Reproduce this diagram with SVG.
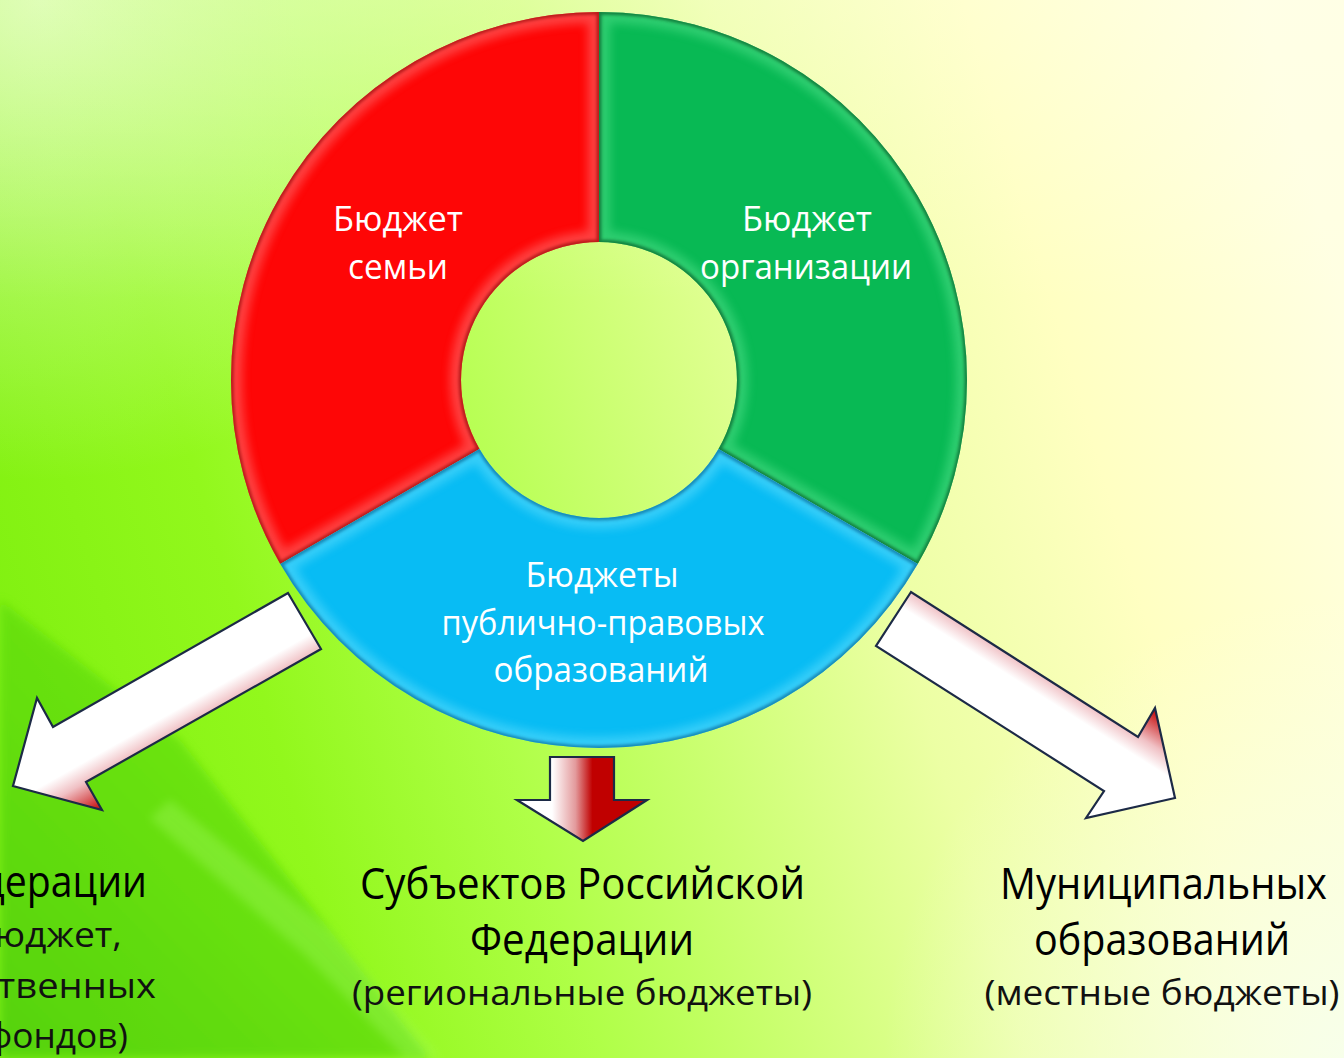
<svg xmlns="http://www.w3.org/2000/svg" width="1344" height="1058" viewBox="0 0 1344 1058">
<style>
.lbl{font-family:"Open Sans","Noto Sans","DejaVu Sans",sans-serif;fill:#fff;font-size:35px;text-anchor:middle}
.hdr{font-family:"Open Sans","Noto Sans","DejaVu Sans",sans-serif;fill:#000;font-size:44px;text-anchor:middle}
.sub{font-family:"Open Sans","Noto Sans","DejaVu Sans",sans-serif;fill:#111;font-size:35px;text-anchor:middle}
.end{text-anchor:end}
.arrow{stroke:#1c2a46;stroke-width:2.2;stroke-linejoin:miter}
.hl{fill:none;stroke-width:22;filter:url(#blur5);opacity:.45}
.rim{fill:none;stroke-width:5;filter:url(#blur1);opacity:.6}
</style>
<defs>
<linearGradient id="bg" gradientUnits="userSpaceOnUse" x1="0" y1="700" x2="1344" y2="300">
<stop offset="0" stop-color="#80f010"/>
<stop offset="0.18" stop-color="#92f81c"/>
<stop offset="0.34" stop-color="#b0ff48"/>
<stop offset="0.48" stop-color="#cdff74"/>
<stop offset="0.63" stop-color="#ecffa4"/>
<stop offset="0.8" stop-color="#ffffc2"/>
<stop offset="1" stop-color="#ffffe2"/>
</linearGradient>
<radialGradient id="tl" gradientUnits="userSpaceOnUse" cx="40" cy="0" r="480">
<stop offset="0" stop-color="#eeffd8" stop-opacity=".7"/>
<stop offset="1" stop-color="#eeffd8" stop-opacity="0"/>
</radialGradient>
<linearGradient id="topw" x1="0" y1="0" x2="0" y2="1">
<stop offset="0" stop-color="#ffffee" stop-opacity=".3"/>
<stop offset="1" stop-color="#ffffee" stop-opacity="0"/>
</linearGradient>
<radialGradient id="br" gradientUnits="userSpaceOnUse" cx="1344" cy="1058" r="460">
<stop offset="0" stop-color="#f6fff0" stop-opacity=".85"/>
<stop offset="1" stop-color="#f6fff0" stop-opacity="0"/>
</radialGradient>
<linearGradient id="wedge" gradientUnits="userSpaceOnUse" x1="0" y1="1058" x2="300" y2="760">
<stop offset="0" stop-color="#4ccc08"/>
<stop offset="1" stop-color="#6ae410"/>
</linearGradient>
<filter id="soft" x="-20%" y="-20%" width="140%" height="140%"><feGaussianBlur stdDeviation="5"/></filter>
<filter id="blur5" x="-10%" y="-10%" width="120%" height="120%"><feGaussianBlur stdDeviation="5"/></filter>
<filter id="blur1" x="-10%" y="-10%" width="120%" height="120%"><feGaussianBlur stdDeviation="1.5"/></filter>
<path id="pRed" d="M599,12 A368,368 0 0 0 280.3,564 L479.5,449 A138,138 0 0 1 599,242 Z"/>
<path id="pGreen" d="M599,12 A368,368 0 0 1 917.7,564 L718.5,449 A138,138 0 0 0 599,242 Z"/>
<path id="pBlue" d="M280.3,564 A368,368 0 0 0 917.7,564 L718.5,449 A138,138 0 0 1 479.5,449 Z"/>
<clipPath id="cRed"><use href="#pRed"/></clipPath>
<clipPath id="cGreen"><use href="#pGreen"/></clipPath>
<clipPath id="cBlue"><use href="#pBlue"/></clipPath>
<linearGradient id="gLeft" gradientUnits="userSpaceOnUse" x1="304.5" y1="621" x2="336.5" y2="677.6">
<stop offset="0" stop-color="#ffffff"/>
<stop offset="0.22" stop-color="#ffffff"/>
<stop offset="0.5" stop-color="#f0c0c4"/>
<stop offset="1" stop-color="#c40000"/>
</linearGradient>
<linearGradient id="gRight" gradientUnits="userSpaceOnUse" x1="893.5" y1="619" x2="928.4" y2="564.1">
<stop offset="0" stop-color="#ffffff"/>
<stop offset="0.22" stop-color="#ffffff"/>
<stop offset="0.5" stop-color="#f0c0c4"/>
<stop offset="1" stop-color="#c40000"/>
</linearGradient>
<linearGradient id="gDown" gradientUnits="userSpaceOnUse" x1="517" y1="0" x2="647" y2="0">
<stop offset="0" stop-color="#ffffff"/>
<stop offset="0.27" stop-color="#ffffff"/>
<stop offset="0.45" stop-color="#e39a9c"/>
<stop offset="0.58" stop-color="#c00000"/>
<stop offset="1" stop-color="#c00000"/>
</linearGradient>
</defs>

<g id="background">
<rect x="0" y="0" width="1344" height="1058" fill="url(#bg)"/>
<rect x="0" y="0" width="1344" height="1058" fill="url(#tl)"/>
<rect x="0" y="0" width="1344" height="300" fill="url(#topw)"/>
<rect x="0" y="0" width="1344" height="1058" fill="url(#br)"/>
<polygon points="0,600 180,740 430,1058 0,1058" fill="url(#wedge)" opacity=".8" filter="url(#soft)"/>
<polygon points="170,800 330,930 440,1058 405,1058 305,955 150,818" fill="#b0ff70" opacity=".3" filter="url(#soft)"/>
</g>

<g id="node-red">
<use href="#pRed" fill="#fe0606"/>
<g clip-path="url(#cRed)">
<use href="#pRed" class="hl" stroke="#ff8a8a"/>
<use href="#pRed" class="rim" stroke="#8a0000"/>
</g>
<text class="lbl" x="398" y="231" textLength="130" lengthAdjust="spacingAndGlyphs">Бюджет</text>
<text class="lbl" x="398" y="279" textLength="100" lengthAdjust="spacingAndGlyphs">семьи</text>
</g>

<g id="node-green">
<use href="#pGreen" fill="#08b954"/>
<g clip-path="url(#cGreen)">
<use href="#pGreen" class="hl" stroke="#5ee894"/>
<use href="#pGreen" class="rim" stroke="#004d1e"/>
</g>
<text class="lbl" x="807" y="231" textLength="130" lengthAdjust="spacingAndGlyphs">Бюджет</text>
<text class="lbl" x="806" y="279" textLength="212" lengthAdjust="spacingAndGlyphs">организации</text>
</g>

<g id="node-blue">
<use href="#pBlue" fill="#08bcf4"/>
<g clip-path="url(#cBlue)">
<use href="#pBlue" class="hl" stroke="#70e4ff"/>
<use href="#pBlue" class="rim" stroke="#005a8a"/>
</g>
<text class="lbl" x="602" y="587" textLength="153" lengthAdjust="spacingAndGlyphs">Бюджеты</text>
<text class="lbl" x="603" y="635" textLength="323" lengthAdjust="spacingAndGlyphs">публично-правовых</text>
<text class="lbl" x="601" y="682" textLength="215" lengthAdjust="spacingAndGlyphs">образований</text>
</g>

<g id="connectors">
<polygon class="arrow" fill="url(#gLeft)" points="288,593 321,649 86,782 102,810 13,786 37,698 53,727"/>
<polygon class="arrow" fill="url(#gDown)" points="550,757 614,757 614,800 647,800 583,841 517,800 550,800"/>
<polygon class="arrow" fill="url(#gRight)" points="911,592 876,646 1104,791 1086,818 1175,798 1155,708 1138,737"/>
</g>

<g id="node-federal">
<text class="hdr end" x="147" y="897" textLength="218" lengthAdjust="spacingAndGlyphs">Федерации</text>
<text class="sub end" x="122" y="947" textLength="150" lengthAdjust="spacingAndGlyphs">бюджет,</text>
<text class="sub end" x="156" y="998" textLength="320" lengthAdjust="spacingAndGlyphs">государственных</text>
<text class="sub end" x="128" y="1048" textLength="141" lengthAdjust="spacingAndGlyphs">фондов)</text>
</g>

<g id="node-regional">
<text class="hdr" x="582.5" y="899" textLength="445" lengthAdjust="spacingAndGlyphs">Субъектов Российской</text>
<text class="hdr" x="582" y="955" textLength="224" lengthAdjust="spacingAndGlyphs">Федерации</text>
<text class="sub" x="582" y="1005" textLength="460" lengthAdjust="spacingAndGlyphs">(региональные бюджеты)</text>
</g>

<g id="node-municipal">
<text class="hdr" x="1163.5" y="899" textLength="327" lengthAdjust="spacingAndGlyphs">Муниципальных</text>
<text class="hdr" x="1162" y="955" textLength="256" lengthAdjust="spacingAndGlyphs">образований</text>
<text class="sub" x="1162" y="1005" textLength="355" lengthAdjust="spacingAndGlyphs">(местные бюджеты)</text>
</g>
</svg>
